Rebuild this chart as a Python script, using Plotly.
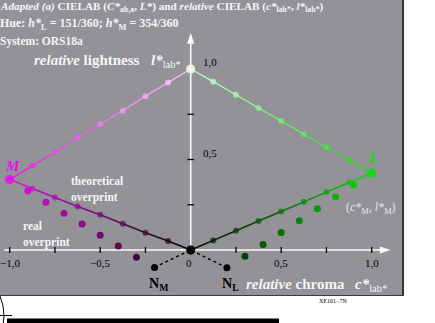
import plotly.graph_objects as go

# ---------------- data ----------------
theo_c_M = [-1.0, -0.875, -0.75, -0.625, -0.5, -0.375, -0.25, -0.125, 0.0]
theo_l_M_dark = [0.39, 0.34, 0.29, 0.24, 0.195, 0.145, 0.095, 0.05, 0.0]
theo_l_M_light = [0.39, 0.465, 0.54, 0.62, 0.695, 0.77, 0.85, 0.925, 1.0]
theo_c_L = [0.0, 0.125, 0.25, 0.375, 0.5, 0.625, 0.75, 0.875, 1.0]
theo_l_L_dark = [0.0, 0.053, 0.106, 0.16, 0.213, 0.266, 0.32, 0.373, 0.425]
theo_l_L_light = [1.0, 0.93, 0.858, 0.785, 0.713, 0.64, 0.568, 0.497, 0.425]
real_c_M = [-0.9, -0.8, -0.7, -0.6, -0.5, -0.4, -0.3]
real_l_M = [0.328, 0.264, 0.203, 0.144, 0.081, 0.022, -0.04]
real_c_L = [0.9, 0.8, 0.7, 0.6, 0.5, 0.4, 0.3]
real_l_L = [0.359, 0.294, 0.228, 0.162, 0.096, 0.031, -0.035]
N_M_c, N_M_l = -0.2, -0.096
N_L_c, N_L_l = 0.2, -0.098

x_tick_vals = [-1.0, -0.75, -0.5, -0.25, 0.25, 0.5, 0.75, 1.0]
x_label_vals = [-1.0, -0.5, 0.0, 0.5, 1.0]
x_label_text = ["\u22121,0", "\u22120,5", "0", "0,5", "1,0"]
y_tick_vals = [0.25, 0.5, 0.75]
y_label_vals = [0.5, 1.0]
y_label_text = ["0,5", "1,0"]
x_axis_span = [-1.03, 1.105]
y_axis_span = [0.0, 1.2]

# ---------------- geometry ----------------
W, H = 435, 323
X0PX, Y0PX, SCALE = 190.7, 250.0, 181.0
xr = [(0 - X0PX) / SCALE, (W - X0PX) / SCALE]
yr = [(Y0PX - H) / SCALE, (Y0PX - 0) / SCALE]

def px(x):
    return x / W

def py(y):
    return 1 - y / H

FONT = "Liberation Serif"
GRAY = "rgb(146,146,151)"
MAG = (228, 20, 228)
GRN = (16, 220, 16)
WHITE = (255, 255, 255)
BLACK = (0, 0, 0)


def mix(c1, c2, t):
    return "rgb(%d,%d,%d)" % tuple(round(a + (b - a) * t) for a, b in zip(c1, c2))


fig = go.Figure()

def segs(cs, ls, cfrom, cto, width):
    n = len(cs)
    for i in range(n - 1):
        t = (i + 0.5) / (n - 1)
        fig.add_trace(go.Scatter(x=[cs[i], cs[i + 1]], y=[ls[i], ls[i + 1]], mode="lines",
                                 line=dict(color=mix(cfrom, cto, t), width=width),
                                 hoverinfo="skip", showlegend=False))

def pts(cs, ls, cfrom, cto, size, end_size):
    n = len(cs)
    cols = [mix(cfrom, cto, i / (n - 1)) for i in range(n)]
    sizes = [end_size if i in (0, n - 1) else size for i in range(n)]
    fig.add_trace(go.Scatter(x=cs, y=ls, mode="markers",
                             marker=dict(color=cols, size=sizes, line=dict(width=0)),
                             hoverinfo="skip", showlegend=False))

# dashed lines to N points
for c, l in ((N_M_c, N_M_l), (N_L_c, N_L_l)):
    fig.add_trace(go.Scatter(x=[c, 0], y=[l, 0], mode="lines",
                             line=dict(color="black", width=1.4, dash="3px,3px"),
                             hoverinfo="skip", showlegend=False))

# theoretical lines
segs(theo_c_M, theo_l_M_light, MAG, (255, 190, 255), 1.3)
segs(theo_c_L[::-1], theo_l_L_light[::-1], GRN, (200, 255, 200), 1.3)
segs(theo_c_M, theo_l_M_dark, MAG, BLACK, 1.5)
segs(theo_c_L, theo_l_L_dark, BLACK, GRN, 1.5)

# real overprint points
fig.add_trace(go.Scatter(x=real_c_M, y=real_l_M, mode="markers",
                         marker=dict(color=[mix(BLACK, MAG, abs(c)) for c in real_c_M], size=7),
                         hoverinfo="skip", showlegend=False))
fig.add_trace(go.Scatter(x=real_c_L, y=real_l_L, mode="markers",
                         marker=dict(color=[mix(BLACK, GRN, abs(c)) for c in real_c_L], size=7),
                         hoverinfo="skip", showlegend=False))
fig.add_trace(go.Scatter(x=[N_M_c, N_L_c], y=[N_M_l, N_L_l], mode="markers",
                         marker=dict(color="black", size=7),
                         hoverinfo="skip", showlegend=False))

# theoretical points
pts(theo_c_M, theo_l_M_light, MAG, (255, 235, 255), 6, 9)
pts(theo_c_L[::-1], theo_l_L_light[::-1], GRN, (235, 255, 235), 6, 9)
pts(theo_c_M, theo_l_M_dark, MAG, BLACK, 6, 9)
pts(theo_c_L, theo_l_L_dark, BLACK, GRN, 6, 9)

AX = "rgb(250,250,250)"
shapes = []
# gray panel
shapes.append(dict(type="rect", xref="paper", yref="paper", x0=px(-2), x1=px(403), y0=py(295), y1=py(-2),
                   fillcolor=GRAY, line=dict(width=0), layer="below"))
shapes.append(dict(type="line", xref="paper", yref="paper", x0=px(403), x1=px(403), y0=py(296), y1=py(-2),
                   line=dict(color="rgb(50,50,50)", width=2)))
shapes.append(dict(type="line", xref="paper", yref="paper", x0=px(-2), x1=px(404), y0=py(295.5), y1=py(295.5),
                   line=dict(color="rgb(60,60,60)", width=1)))
# crop marks under panel
shapes.append(dict(type="circle", xref="paper", yref="paper", x0=px(-100), x1=px(4), y0=py(368), y1=py(264),
                   line=dict(color="black", width=1)))
shapes.append(dict(type="line", xref="paper", yref="paper", x0=px(0), x1=px(12), y0=py(315.5), y1=py(315.5),
                   line=dict(color="black", width=1)))
shapes.append(dict(type="rect", xref="paper", yref="paper", x0=px(7), x1=px(279), y0=py(323), y1=py(318.5),
                   fillcolor="black", line=dict(width=0)))

# axes lines + arrow heads
shapes.append(dict(type="line", xref="x", yref="y", x0=x_axis_span[0], x1=x_axis_span[1] - 0.03, y0=0, y1=0,
                   line=dict(color=AX, width=1.6), layer="below"))
shapes.append(dict(type="line", xref="x", yref="y", x0=0, x1=0, y0=y_axis_span[0], y1=y_axis_span[1] - 0.03,
                   line=dict(color=AX, width=1.6), layer="below"))
xt = x_axis_span[1]
yt = y_axis_span[1]
shapes.append(dict(type="path", xref="x", yref="y",
                   path="M %f,0 L %f,%f L %f,%f Z" % (xt, xt - 0.06, 0.02, xt - 0.06, -0.02),
                   fillcolor=AX, line=dict(width=0)))
shapes.append(dict(type="path", xref="x", yref="y",
                   path="M 0,%f L %f,%f L %f,%f Z" % (yt, -0.02, yt - 0.06, 0.02, yt - 0.06),
                   fillcolor=AX, line=dict(width=0)))

# ticks
for v in x_tick_vals:
    shapes.append(dict(type="line", xref="x", yref="y", x0=v, x1=v, y0=-0.016, y1=0.016,
                       line=dict(color="black", width=1.3)))
for v in y_tick_vals:
    shapes.append(dict(type="line", xref="x", yref="y", x0=-0.018, x1=0.018, y0=v, y1=v,
                       line=dict(color="black", width=1.3)))

ann = []
for v, t in zip(x_label_vals, x_label_text):
    ann.append(dict(x=v, y=0, xref="x", yref="y", text=t, showarrow=False, yshift=-13,
                    xshift=-2 if v == 0 else 0,
                    font=dict(family=FONT, size=11, color="black")))
for v, t in zip(y_label_vals, y_label_text):
    ann.append(dict(x=0, y=v, xref="x", yref="y", text=t, showarrow=False, xanchor="left",
                    xshift=10, yshift=7, font=dict(family=FONT, size=11, color="black")))

def txt(x, y, t, size, color="white", xanchor="left"):
    ann.append(dict(x=px(x), y=py(y), xref="paper", yref="paper", text=t, showarrow=False,
                    xanchor=xanchor, yanchor="middle", font=dict(family=FONT, size=size, color=color)))

TW = "rgb(245,245,245)"
txt(-2, 7, "<b><i>Adapted (a)</i> CIELAB (<i>C*</i><sub>ab,a</sub>, <i>L*</i>) and <i>relative</i> CIELAB (<i>c*</i><sub>lab*</sub>, <i>l*</i><sub>lab*</sub>)</b>", 11.2, TW)
txt(-2, 24, "<b>Hue: <i>h*</i><sub>L</sub> = 151/360; <i>h*</i><sub>M</sub> = 354/360</b>", 12, TW)
txt(-2, 42, "<b>System: ORS18a</b>", 11.5, TW)
txt(32, 60, "<b><i>relative</i> lightness</b>", 15, TW)
txt(149, 61, "<b><i>l*</i></b><sub>lab*</sub>", 15, TW)
txt(69, 181, "<b>theoretical</b>", 11.5, TW)
txt(69, 197, "<b>overprint</b>", 11.5, TW)
txt(21, 226, "<b>real</b>", 11.5, TW)
txt(21, 242, "<b>overprint</b>", 11.5, TW)
txt(344, 208, "(<i>c*</i><sub>M</sub>, <i>l*</i><sub>M</sub>)", 12, "rgb(230,230,230)")
txt(147, 284, "<b>N<sub>M</sub></b>", 14, "black")
txt(220, 284, "<b>N<sub>L</sub></b>", 14, "black")
txt(244, 284, "<b><i>relative</i> chroma</b>", 15, TW)
txt(353, 285, "<b><i>c*</i></b><sub>lab*</sub>", 15, TW)
txt(3, 166, "<b><i>M</i></b>", 15, "rgb(228,20,228)")
txt(366, 158, "<b><i>L</i></b>", 15, "rgb(16,220,16)")
txt(333, 301, "XE101\u22127N", 6, "black", xanchor="center")

fig.update_layout(
    width=W, height=H, margin=dict(l=0, r=0, t=0, b=0),
    paper_bgcolor="white", plot_bgcolor="rgba(0,0,0,0)",
    xaxis=dict(range=xr, visible=False, fixedrange=True),
    yaxis=dict(range=yr, visible=False, fixedrange=True),
    shapes=shapes, annotations=ann, showlegend=False,
)
fig.write_html("out.html", config=dict(displayModeBar=False),
               post_script="document.body.style.margin='0';document.body.style.overflow='hidden';")
